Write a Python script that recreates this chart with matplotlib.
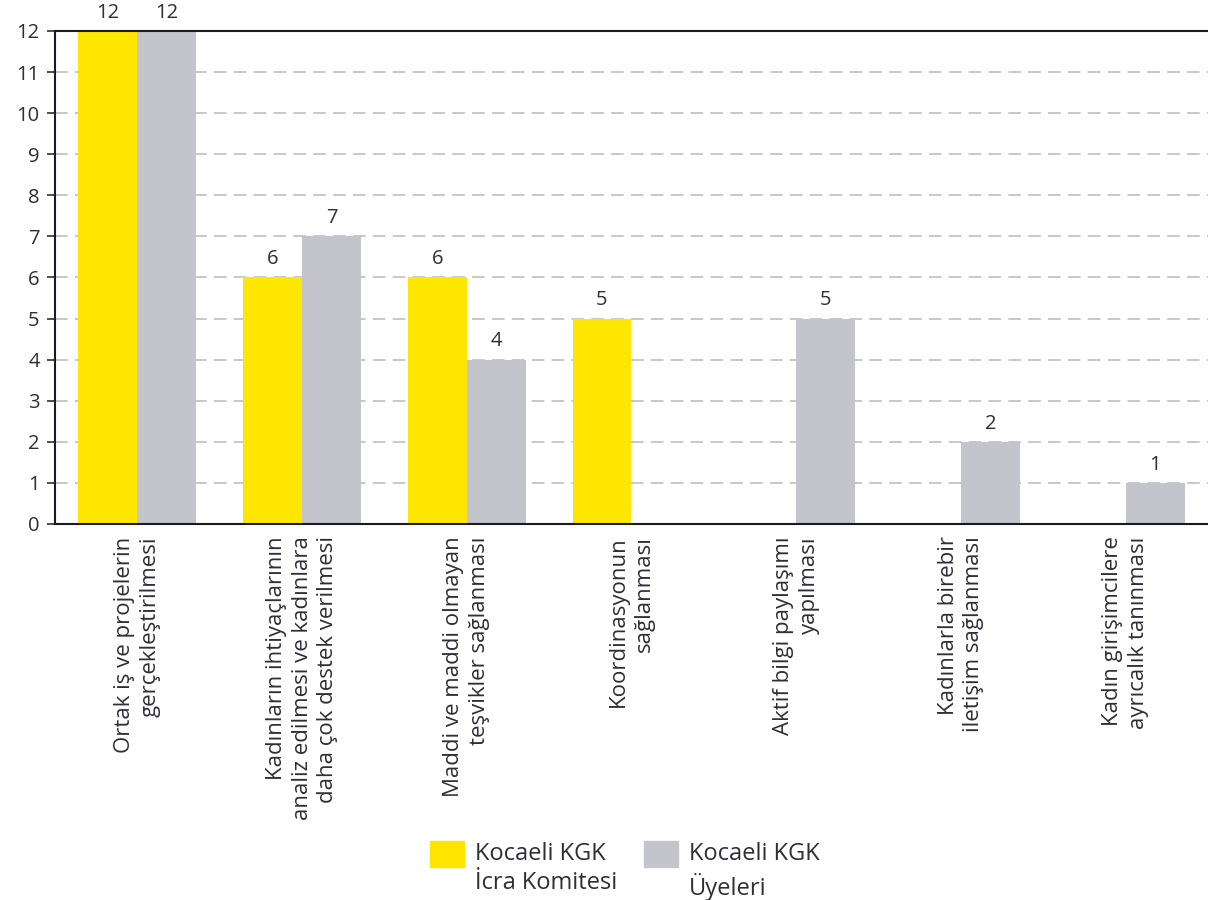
import matplotlib
matplotlib.use('Agg')
import matplotlib.pyplot as plt
import numpy as np
from matplotlib.patches import Rectangle

categories = [
    "Ortak iş ve projelerin\ngerçekleştirilmesi",
    "Kadınların ihtiyaçlarının\nanaliz edilmesi ve kadınlara\ndaha çok destek verilmesi",
    "Maddi ve maddi olmayan\nteşvikler sağlanması",
    "Koordinasyonun\nsağlanması",
    "Aktif bilgi paylaşımı\nyapılması",
    "Kadınlarla birebir\niletişim sağlanması",
    "Kadın girişimcilere\nayrıcalık tanınması",
]
icra = [12, 6, 6, 5, 0, 0, 0]
uyeler = [12, 7, 4, 0, 5, 2, 1]
series_names = ["Kocaeli KGK\nİcra Komitesi", "Kocaeli KGK\nÜyeleri"]

yellow = '#FFE600'
grey = '#C4C4CD'
txt = '#2e2e38'

plt.rcParams['font.family'] = ['Open Sans', 'DejaVu Sans']

W, H = 1208, 900
fig = plt.figure(figsize=(W / 100, H / 100), dpi=100)
ax = fig.add_axes([0.0455, 0.4178, 0.9545, 0.5478])

x = np.arange(len(categories))
w = 0.358
for vals, off, col in [(icra, -w / 2, yellow), (uyeler, w / 2, grey)]:
    for xi, v in zip(x, vals):
        if v == 0:
            continue
        ax.bar(xi + off, v, width=w, color=col, zorder=2)
        ax.text(xi + off, v + 0.2, str(v), ha='center', va='bottom',
                fontsize=14.5, color=txt)

ax.set_xlim(-0.5, len(categories) - 0.5)
ax.set_ylim(0, 12)
ax.set_yticks(range(0, 13))
ax.yaxis.grid(True, linestyle=(0, (7, 4)), color='#c4c4c4', linewidth=1.3, zorder=0)
ax.set_axisbelow(True)

ax.set_xticks(x)
ax.set_xticklabels(categories, rotation=90, ha='center', va='top',
                   multialignment='right', fontsize=16, color=txt,
                   linespacing=1.3)
ax.tick_params(axis='x', length=0, pad=9)
ax.tick_params(axis='y', length=6, width=1.2, color=txt, labelsize=14.5,
               labelcolor=txt, pad=5)

ax.spines['right'].set_visible(False)
for s in ['left', 'bottom', 'top']:
    ax.spines[s].set_color('#1a1a24')
    ax.spines[s].set_linewidth(1.5)

# legend: swatch aligned with the first text line
for (px, col), name in zip([(430, yellow), (644, grey)], series_names):
    fig.patches.append(Rectangle((px / W, 1 - 867 / H), 34 / W, 26 / H,
                                 transform=fig.transFigure, color=col))
    fig.text((px + 45) / W, 1 - 842 / H, name, ha='left', va='top',
             fontsize=17, color=txt, linespacing=1.3)

plt.savefig('out.png', dpi=100)
